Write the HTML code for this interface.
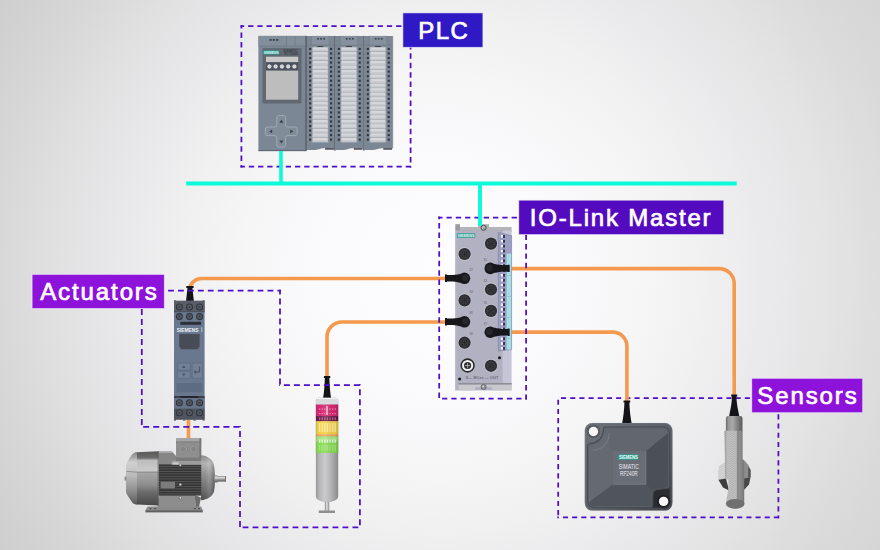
<!DOCTYPE html>
<html><head><meta charset="utf-8"><title>IO-Link</title>
<style>
html,body{margin:0;padding:0;background:#e4e4e6;}
body{width:880px;height:550px;overflow:hidden;}
svg{display:block;}
text{font-family:"Liberation Sans",Arial,sans-serif;}
.lbl{font-size:24px;fill:#fff;stroke:#fff;stroke-width:.7;letter-spacing:1.9px;}
.dash{fill:none;stroke:#4d0ec6;stroke-linecap:butt;}
.or{fill:none;stroke:#f5994f;stroke-width:3.6;stroke-linecap:butt;}
.cy{fill:none;stroke:#0afada;}
</style></head><body>
<svg width="880" height="550" viewBox="0 0 880 550">
<defs>
<radialGradient id="bg" gradientUnits="userSpaceOnUse" cx="440" cy="275" r="520"><stop offset="0" stop-color="#fdfdff"/><stop offset="0.125" stop-color="#fcfcfe"/><stop offset="0.25" stop-color="#fafafc"/><stop offset="0.375" stop-color="#f6f6f7"/><stop offset="0.5" stop-color="#f0f0f1"/><stop offset="0.625" stop-color="#e8e8ea"/><stop offset="0.75" stop-color="#e0e0e1"/><stop offset="0.846" stop-color="#d8d8d9"/><stop offset="0.92" stop-color="#d3d3d3"/><stop offset="1" stop-color="#cecece"/></radialGradient>
<linearGradient id="bg2" gradientUnits="userSpaceOnUse" x1="440" x2="880" y1="0" y2="0"><stop offset="0" stop-color="#fff" stop-opacity="0"/><stop offset="1" stop-color="#fff" stop-opacity=".15"/></linearGradient>
<linearGradient id="tg" x1="0" x2="1" y1="0" y2="0"><stop offset="0" stop-color="#949496"/><stop offset=".12" stop-color="#b2b2b4"/><stop offset=".4" stop-color="#cbcbcd"/><stop offset=".62" stop-color="#b9b9bb"/><stop offset=".88" stop-color="#9a9a9c"/><stop offset="1" stop-color="#88888a"/></linearGradient>
<linearGradient id="tsh" x1="0" x2="1" y1="0" y2="0"><stop offset="0" stop-color="#000" stop-opacity=".16"/><stop offset=".15" stop-color="#fff" stop-opacity=".0"/><stop offset=".45" stop-color="#fff" stop-opacity=".14"/><stop offset=".85" stop-color="#000" stop-opacity=".03"/><stop offset="1" stop-color="#000" stop-opacity=".18"/></linearGradient>
<linearGradient id="mfan" x1="0" x2="0" y1="0" y2="1"><stop offset="0" stop-color="#585858"/><stop offset=".12" stop-color="#6c6c6c"/><stop offset=".17" stop-color="#bdbdbd"/><stop offset=".36" stop-color="#cbcbcb"/><stop offset=".4" stop-color="#a6a6a6"/><stop offset=".62" stop-color="#8e8e8e"/><stop offset=".76" stop-color="#6a6a6a"/><stop offset="1" stop-color="#484848"/></linearGradient>
<linearGradient id="mfl" x1="0" x2="0" y1="0" y2="1"><stop offset="0" stop-color="#8a8a8a"/><stop offset=".2" stop-color="#d2d2d2"/><stop offset=".45" stop-color="#bcbcbc"/><stop offset=".75" stop-color="#8e8e8e"/><stop offset="1" stop-color="#5c5c5c"/></linearGradient>
<linearGradient id="mend" x1="0" x2="0" y1="0" y2="1"><stop offset="0" stop-color="#8a8a8a"/><stop offset=".18" stop-color="#b6b6b6"/><stop offset=".45" stop-color="#8f8f8f"/><stop offset=".8" stop-color="#6a6a6a"/><stop offset="1" stop-color="#505050"/></linearGradient>
<linearGradient id="msh" x1="0" x2="0" y1="0" y2="1"><stop offset="0" stop-color="#8c8c8c"/><stop offset=".3" stop-color="#dcdcdc"/><stop offset=".6" stop-color="#9a9a9a"/><stop offset="1" stop-color="#5a5a5a"/></linearGradient>
<linearGradient id="mhz" x1="0" x2="1" y1="0" y2="0"><stop offset="0" stop-color="#000" stop-opacity=".0"/><stop offset=".55" stop-color="#fff" stop-opacity=".12"/><stop offset="1" stop-color="#000" stop-opacity=".28"/></linearGradient>
<linearGradient id="rfe" x1="0" x2="1" y1="0" y2="1"><stop offset="0" stop-color="#6d7179"/><stop offset=".5" stop-color="#5c6068"/><stop offset="1" stop-color="#3c3f45"/></linearGradient>
<linearGradient id="pxs" x1="0" x2="1" y1="0" y2="0"><stop offset="0" stop-color="#686868"/><stop offset=".15" stop-color="#979797"/><stop offset=".4" stop-color="#aaaaaa"/><stop offset=".62" stop-color="#8a8a8a"/><stop offset="1" stop-color="#5a5a5a"/></linearGradient>
<linearGradient id="pxt" x1="0" x2="1" y1="0" y2="0"><stop offset="0" stop-color="#9a9a9a"/><stop offset=".12" stop-color="#c8c8c8"/><stop offset=".6" stop-color="#c6c6c6"/><stop offset=".68" stop-color="#757575"/><stop offset=".73" stop-color="#969696"/><stop offset="1" stop-color="#767676"/></linearGradient>
<pattern id="pxh" width="1.6" height="1.6" patternUnits="userSpaceOnUse" patternTransform="rotate(-32)"><rect width="1.6" height=".55" fill="#777" opacity=".5"/></pattern>
</defs>
<rect width="880" height="550" fill="url(#bg)"/>
<rect x="440" width="440" height="550" fill="url(#bg2)"/>
<g class="cy">
<path d="M186.2 183.5H736.7" stroke-width="4"/>
</g>
<g class="dash">
<path d="M557.3 398H751.8" stroke-dasharray="5.1 4.09" stroke-dashoffset="5.48" stroke-width="1.75"/>
<path d="M558.2 397.1V518.2" stroke-dasharray="5.1 4.1" stroke-dashoffset="6.6" stroke-width="1.75"/>
<path d="M557.3 517.3H779.3" stroke-dasharray="5.1 4.07" stroke-dashoffset="3.51" stroke-width="1.75"/>
<path d="M778.4 412.7V518.2" stroke-dasharray="5.1 4.1" stroke-dashoffset="7.6" stroke-width="1.75"/>
</g>
<g class="or">
<path d="M446 278.5H201.5A12 12 0 0 0 189.5 290.5" stroke-width="3.6"/>
<path d="M446 322H342A15 15 0 0 0 327 337V377"/>
<path d="M509 268.6H719.2A15 15 0 0 1 734.2 283.6V396"/>
<path d="M509 332.1H612.9A14 14 0 0 1 626.9 346.1V401.5"/>
<path d="M188.5 419V439" stroke-width="3.6"/>
</g>
<g id="plc">
<rect x="258.4" y="35.9" width="47.8" height="115.2" fill="#7c8795"/>
<rect x="258.4" y="35.9" width="47.8" height="10" fill="#838e9b"/>
<path d="M258.4 46H306.2M286.5 36V46M295 36V46" stroke="#6d7784" stroke-width=".6" fill="none"/>
<rect x="269.5" y="39" width="2.2" height="1.8" fill="#3c4450"/>
<rect x="272.8" y="39" width="2.2" height="1.8" fill="#3c4450"/>
<rect x="276.1" y="39" width="2.2" height="1.8" fill="#3c4450"/>
<rect x="262.5" y="48.1" width="39" height="55.4" fill="#626872"/>
<rect x="263.3" y="50.4" width="15.7" height="4" fill="#1fa39a"/>
<text x="263.8" y="53.8" font-size="3.4" font-weight="700" fill="#e8f6f4" textLength="14.8" lengthAdjust="spacingAndGlyphs">SIEMENS</text>
<text x="283.3" y="51.8" font-size="3.4" font-weight="700" fill="#3c424c" textLength="14.5" lengthAdjust="spacingAndGlyphs">SIMATIC</text>
<text x="284.3" y="55.4" font-size="3.4" font-weight="700" fill="#3c424c" textLength="13.5" lengthAdjust="spacingAndGlyphs">S7-1500</text>
<rect x="266" y="56.7" width="32.2" height="5.3" fill="#c9c9ca"/>
<rect x="266" y="62.6" width="32.2" height="7.6" fill="#4d545f"/>
<circle cx="269.4" cy="66.5" r="1.7" fill="#cfd0d2" stroke="#eeeff0" stroke-width=".8"/>
<circle cx="275.6" cy="66.5" r="1.7" fill="#cfd0d2" stroke="#eeeff0" stroke-width=".8"/>
<circle cx="281.9" cy="66.5" r="1.7" fill="#cfd0d2" stroke="#eeeff0" stroke-width=".8"/>
<circle cx="288.2" cy="66.5" r="1.7" fill="#cfd0d2" stroke="#eeeff0" stroke-width=".8"/>
<circle cx="294.4" cy="66.5" r="1.7" fill="#cfd0d2" stroke="#eeeff0" stroke-width=".8"/>
<rect x="266" y="70.7" width="32.2" height="29" fill="#bdbdbe"/>
<path d="M276.8 117.6a2 2 0 0 1 2-2h4.8a2 2 0 0 1 2 2v7.4a2 2 0 0 0 2 2h7.6a2 2 0 0 1 2 2v4.6a2 2 0 0 1-2 2h-7.6a2 2 0 0 0-2 2v7.6a2 2 0 0 1-2 2h-4.8a2 2 0 0 1-2-2v-7.6a2 2 0 0 0-2-2h-7.4a2 2 0 0 1-2-2v-4.6a2 2 0 0 1 2-2h7.4a2 2 0 0 0 2-2z" fill="#818c99" stroke="#a1a9b3" stroke-width="1"/>
<path d="M281.4 119.6l2 3.2h-4zM281.4 143.6l2-3.2h-4zM269 131.4l3.2-1.9v3.8zM293.4 131.4l-3.2-1.9v3.8z" fill="#3a414c"/>
<rect x="258.4" y="150.2" width="47.8" height=".9" fill="#5a626d"/>
<path d="M306.8 35.9h27.5V148.2h-9.4c-5 0-7 1.9-11 1.9h-7.1z" fill="#7c8795"/>
<rect x="311.4" y="35.9" width="17.8" height="9.3" fill="#86909e"/>
<path d="M311.4 36v9.2M329.2 36v9.2M306.8 45.2h27.5" stroke="#6c7683" stroke-width=".5" fill="none"/>
<rect x="317.1" y="38" width="1.8" height="1.6" fill="#3c4450"/>
<rect x="320.15" y="38" width="1.8" height="1.6" fill="#3c4450"/>
<rect x="323.2" y="38" width="1.8" height="1.6" fill="#3c4450"/>
<rect x="311.5" y="46.6" width="17.4" height="96.4" fill="#8e98a5"/>
<rect x="317.3" y="46.1" width="6" height="1.3" fill="#353c47"/>
<rect x="312.7" y="47.3" width="15" height="95" fill="#a9adb4"/>
<rect x="312.7" y="47.4" width="15" height="3.62" fill="#d6d8dc"/>
<rect x="312.7" y="49.56" width="15" height="1.46" fill="#c6c9ce"/>
<rect x="312.7" y="51.92" width="15" height="3.62" fill="#d6d8dc"/>
<rect x="312.7" y="54.09" width="15" height="1.46" fill="#c6c9ce"/>
<rect x="312.7" y="56.45" width="15" height="3.62" fill="#d6d8dc"/>
<rect x="312.7" y="58.61" width="15" height="1.46" fill="#c6c9ce"/>
<rect x="312.7" y="60.97" width="15" height="3.62" fill="#d6d8dc"/>
<rect x="312.7" y="63.13" width="15" height="1.46" fill="#c6c9ce"/>
<rect x="312.7" y="65.5" width="15" height="3.62" fill="#d6d8dc"/>
<rect x="312.7" y="67.66" width="15" height="1.46" fill="#c6c9ce"/>
<rect x="312.7" y="70.02" width="15" height="3.62" fill="#d6d8dc"/>
<rect x="312.7" y="72.18" width="15" height="1.46" fill="#c6c9ce"/>
<rect x="312.7" y="74.54" width="15" height="3.62" fill="#d6d8dc"/>
<rect x="312.7" y="76.7" width="15" height="1.46" fill="#c6c9ce"/>
<rect x="312.7" y="79.07" width="15" height="3.62" fill="#d6d8dc"/>
<rect x="312.7" y="81.23" width="15" height="1.46" fill="#c6c9ce"/>
<rect x="312.7" y="83.59" width="15" height="3.62" fill="#d6d8dc"/>
<rect x="312.7" y="85.75" width="15" height="1.46" fill="#c6c9ce"/>
<rect x="312.7" y="88.11" width="15" height="3.62" fill="#d6d8dc"/>
<rect x="312.7" y="90.28" width="15" height="1.46" fill="#c6c9ce"/>
<rect x="312.7" y="92.64" width="15" height="3.62" fill="#d6d8dc"/>
<rect x="312.7" y="94.8" width="15" height="1.46" fill="#c6c9ce"/>
<rect x="312.7" y="97.16" width="15" height="3.62" fill="#d6d8dc"/>
<rect x="312.7" y="99.32" width="15" height="1.46" fill="#c6c9ce"/>
<rect x="312.7" y="101.69" width="15" height="3.62" fill="#d6d8dc"/>
<rect x="312.7" y="103.85" width="15" height="1.46" fill="#c6c9ce"/>
<rect x="312.7" y="106.21" width="15" height="3.62" fill="#d6d8dc"/>
<rect x="312.7" y="108.37" width="15" height="1.46" fill="#c6c9ce"/>
<rect x="312.7" y="110.73" width="15" height="3.62" fill="#d6d8dc"/>
<rect x="312.7" y="112.9" width="15" height="1.46" fill="#c6c9ce"/>
<rect x="312.7" y="115.26" width="15" height="3.62" fill="#d6d8dc"/>
<rect x="312.7" y="117.42" width="15" height="1.46" fill="#c6c9ce"/>
<rect x="312.7" y="119.78" width="15" height="3.62" fill="#d6d8dc"/>
<rect x="312.7" y="121.94" width="15" height="1.46" fill="#c6c9ce"/>
<rect x="312.7" y="124.3" width="15" height="3.62" fill="#d6d8dc"/>
<rect x="312.7" y="126.47" width="15" height="1.46" fill="#c6c9ce"/>
<rect x="312.7" y="128.83" width="15" height="3.62" fill="#d6d8dc"/>
<rect x="312.7" y="130.99" width="15" height="1.46" fill="#c6c9ce"/>
<rect x="312.7" y="133.35" width="15" height="3.62" fill="#d6d8dc"/>
<rect x="312.7" y="135.51" width="15" height="1.46" fill="#c6c9ce"/>
<rect x="312.7" y="137.88" width="15" height="3.62" fill="#d6d8dc"/>
<rect x="312.7" y="140.04" width="15" height="1.46" fill="#c6c9ce"/>
<rect x="309.1" y="47.9" width="2.1" height="2.1" fill="#2f3641"/>
<rect x="330" y="47.9" width="2.1" height="2.1" fill="#2f3641"/>
<rect x="309.1" y="52.44" width="2.1" height="2.1" fill="#2f3641"/>
<rect x="330" y="52.44" width="2.1" height="2.1" fill="#2f3641"/>
<rect x="309.1" y="56.97" width="2.1" height="2.1" fill="#2f3641"/>
<rect x="330" y="56.97" width="2.1" height="2.1" fill="#2f3641"/>
<rect x="309.1" y="61.5" width="2.1" height="2.1" fill="#2f3641"/>
<rect x="330" y="61.5" width="2.1" height="2.1" fill="#2f3641"/>
<rect x="309.1" y="66.04" width="2.1" height="2.1" fill="#2f3641"/>
<rect x="330" y="66.04" width="2.1" height="2.1" fill="#2f3641"/>
<rect x="309.1" y="70.58" width="2.1" height="2.1" fill="#2f3641"/>
<rect x="330" y="70.58" width="2.1" height="2.1" fill="#2f3641"/>
<rect x="309.1" y="75.11" width="2.1" height="2.1" fill="#2f3641"/>
<rect x="330" y="75.11" width="2.1" height="2.1" fill="#2f3641"/>
<rect x="309.1" y="79.64" width="2.1" height="2.1" fill="#2f3641"/>
<rect x="330" y="79.64" width="2.1" height="2.1" fill="#2f3641"/>
<rect x="309.1" y="84.18" width="2.1" height="2.1" fill="#2f3641"/>
<rect x="330" y="84.18" width="2.1" height="2.1" fill="#2f3641"/>
<rect x="309.1" y="88.72" width="2.1" height="2.1" fill="#2f3641"/>
<rect x="330" y="88.72" width="2.1" height="2.1" fill="#2f3641"/>
<rect x="309.1" y="93.25" width="2.1" height="2.1" fill="#2f3641"/>
<rect x="330" y="93.25" width="2.1" height="2.1" fill="#2f3641"/>
<rect x="309.1" y="97.78" width="2.1" height="2.1" fill="#2f3641"/>
<rect x="330" y="97.78" width="2.1" height="2.1" fill="#2f3641"/>
<rect x="309.1" y="102.32" width="2.1" height="2.1" fill="#2f3641"/>
<rect x="330" y="102.32" width="2.1" height="2.1" fill="#2f3641"/>
<rect x="309.1" y="106.85" width="2.1" height="2.1" fill="#2f3641"/>
<rect x="330" y="106.85" width="2.1" height="2.1" fill="#2f3641"/>
<rect x="309.1" y="111.39" width="2.1" height="2.1" fill="#2f3641"/>
<rect x="330" y="111.39" width="2.1" height="2.1" fill="#2f3641"/>
<rect x="309.1" y="115.93" width="2.1" height="2.1" fill="#2f3641"/>
<rect x="330" y="115.93" width="2.1" height="2.1" fill="#2f3641"/>
<rect x="309.1" y="120.46" width="2.1" height="2.1" fill="#2f3641"/>
<rect x="330" y="120.46" width="2.1" height="2.1" fill="#2f3641"/>
<rect x="309.1" y="125" width="2.1" height="2.1" fill="#2f3641"/>
<rect x="330" y="125" width="2.1" height="2.1" fill="#2f3641"/>
<rect x="309.1" y="129.53" width="2.1" height="2.1" fill="#2f3641"/>
<rect x="330" y="129.53" width="2.1" height="2.1" fill="#2f3641"/>
<rect x="309.1" y="134.06" width="2.1" height="2.1" fill="#2f3641"/>
<rect x="330" y="134.06" width="2.1" height="2.1" fill="#2f3641"/>
<rect x="309.1" y="138.6" width="2.1" height="2.1" fill="#2f3641"/>
<rect x="330" y="138.6" width="2.1" height="2.1" fill="#2f3641"/>
<rect x="325.1" y="148" width="8.8" height="1.8" fill="#5b5b61"/>
<rect x="305.5" y="35.9" width="1.3" height="114.8" fill="#4a515c"/>
<path d="M335.5 35.9h27.5V148.2h-9.4c-5 0-7 1.9-11 1.9h-7.1z" fill="#7c8795"/>
<rect x="340.1" y="35.9" width="17.8" height="9.3" fill="#86909e"/>
<path d="M340.1 36v9.2M357.9 36v9.2M335.5 45.2h27.5" stroke="#6c7683" stroke-width=".5" fill="none"/>
<rect x="345.8" y="38" width="1.8" height="1.6" fill="#3c4450"/>
<rect x="348.85" y="38" width="1.8" height="1.6" fill="#3c4450"/>
<rect x="351.9" y="38" width="1.8" height="1.6" fill="#3c4450"/>
<rect x="340.2" y="46.6" width="17.4" height="96.4" fill="#8e98a5"/>
<rect x="346" y="46.1" width="6" height="1.3" fill="#353c47"/>
<rect x="341.4" y="47.3" width="15" height="95" fill="#a9adb4"/>
<rect x="341.4" y="47.4" width="15" height="3.62" fill="#d6d8dc"/>
<rect x="341.4" y="49.56" width="15" height="1.46" fill="#c6c9ce"/>
<rect x="341.4" y="51.92" width="15" height="3.62" fill="#d6d8dc"/>
<rect x="341.4" y="54.09" width="15" height="1.46" fill="#c6c9ce"/>
<rect x="341.4" y="56.45" width="15" height="3.62" fill="#d6d8dc"/>
<rect x="341.4" y="58.61" width="15" height="1.46" fill="#c6c9ce"/>
<rect x="341.4" y="60.97" width="15" height="3.62" fill="#d6d8dc"/>
<rect x="341.4" y="63.13" width="15" height="1.46" fill="#c6c9ce"/>
<rect x="341.4" y="65.5" width="15" height="3.62" fill="#d6d8dc"/>
<rect x="341.4" y="67.66" width="15" height="1.46" fill="#c6c9ce"/>
<rect x="341.4" y="70.02" width="15" height="3.62" fill="#d6d8dc"/>
<rect x="341.4" y="72.18" width="15" height="1.46" fill="#c6c9ce"/>
<rect x="341.4" y="74.54" width="15" height="3.62" fill="#d6d8dc"/>
<rect x="341.4" y="76.7" width="15" height="1.46" fill="#c6c9ce"/>
<rect x="341.4" y="79.07" width="15" height="3.62" fill="#d6d8dc"/>
<rect x="341.4" y="81.23" width="15" height="1.46" fill="#c6c9ce"/>
<rect x="341.4" y="83.59" width="15" height="3.62" fill="#d6d8dc"/>
<rect x="341.4" y="85.75" width="15" height="1.46" fill="#c6c9ce"/>
<rect x="341.4" y="88.11" width="15" height="3.62" fill="#d6d8dc"/>
<rect x="341.4" y="90.28" width="15" height="1.46" fill="#c6c9ce"/>
<rect x="341.4" y="92.64" width="15" height="3.62" fill="#d6d8dc"/>
<rect x="341.4" y="94.8" width="15" height="1.46" fill="#c6c9ce"/>
<rect x="341.4" y="97.16" width="15" height="3.62" fill="#d6d8dc"/>
<rect x="341.4" y="99.32" width="15" height="1.46" fill="#c6c9ce"/>
<rect x="341.4" y="101.69" width="15" height="3.62" fill="#d6d8dc"/>
<rect x="341.4" y="103.85" width="15" height="1.46" fill="#c6c9ce"/>
<rect x="341.4" y="106.21" width="15" height="3.62" fill="#d6d8dc"/>
<rect x="341.4" y="108.37" width="15" height="1.46" fill="#c6c9ce"/>
<rect x="341.4" y="110.73" width="15" height="3.62" fill="#d6d8dc"/>
<rect x="341.4" y="112.9" width="15" height="1.46" fill="#c6c9ce"/>
<rect x="341.4" y="115.26" width="15" height="3.62" fill="#d6d8dc"/>
<rect x="341.4" y="117.42" width="15" height="1.46" fill="#c6c9ce"/>
<rect x="341.4" y="119.78" width="15" height="3.62" fill="#d6d8dc"/>
<rect x="341.4" y="121.94" width="15" height="1.46" fill="#c6c9ce"/>
<rect x="341.4" y="124.3" width="15" height="3.62" fill="#d6d8dc"/>
<rect x="341.4" y="126.47" width="15" height="1.46" fill="#c6c9ce"/>
<rect x="341.4" y="128.83" width="15" height="3.62" fill="#d6d8dc"/>
<rect x="341.4" y="130.99" width="15" height="1.46" fill="#c6c9ce"/>
<rect x="341.4" y="133.35" width="15" height="3.62" fill="#d6d8dc"/>
<rect x="341.4" y="135.51" width="15" height="1.46" fill="#c6c9ce"/>
<rect x="341.4" y="137.88" width="15" height="3.62" fill="#d6d8dc"/>
<rect x="341.4" y="140.04" width="15" height="1.46" fill="#c6c9ce"/>
<rect x="337.8" y="47.9" width="2.1" height="2.1" fill="#2f3641"/>
<rect x="358.7" y="47.9" width="2.1" height="2.1" fill="#2f3641"/>
<rect x="337.8" y="52.44" width="2.1" height="2.1" fill="#2f3641"/>
<rect x="358.7" y="52.44" width="2.1" height="2.1" fill="#2f3641"/>
<rect x="337.8" y="56.97" width="2.1" height="2.1" fill="#2f3641"/>
<rect x="358.7" y="56.97" width="2.1" height="2.1" fill="#2f3641"/>
<rect x="337.8" y="61.5" width="2.1" height="2.1" fill="#2f3641"/>
<rect x="358.7" y="61.5" width="2.1" height="2.1" fill="#2f3641"/>
<rect x="337.8" y="66.04" width="2.1" height="2.1" fill="#2f3641"/>
<rect x="358.7" y="66.04" width="2.1" height="2.1" fill="#2f3641"/>
<rect x="337.8" y="70.58" width="2.1" height="2.1" fill="#2f3641"/>
<rect x="358.7" y="70.58" width="2.1" height="2.1" fill="#2f3641"/>
<rect x="337.8" y="75.11" width="2.1" height="2.1" fill="#2f3641"/>
<rect x="358.7" y="75.11" width="2.1" height="2.1" fill="#2f3641"/>
<rect x="337.8" y="79.64" width="2.1" height="2.1" fill="#2f3641"/>
<rect x="358.7" y="79.64" width="2.1" height="2.1" fill="#2f3641"/>
<rect x="337.8" y="84.18" width="2.1" height="2.1" fill="#2f3641"/>
<rect x="358.7" y="84.18" width="2.1" height="2.1" fill="#2f3641"/>
<rect x="337.8" y="88.72" width="2.1" height="2.1" fill="#2f3641"/>
<rect x="358.7" y="88.72" width="2.1" height="2.1" fill="#2f3641"/>
<rect x="337.8" y="93.25" width="2.1" height="2.1" fill="#2f3641"/>
<rect x="358.7" y="93.25" width="2.1" height="2.1" fill="#2f3641"/>
<rect x="337.8" y="97.78" width="2.1" height="2.1" fill="#2f3641"/>
<rect x="358.7" y="97.78" width="2.1" height="2.1" fill="#2f3641"/>
<rect x="337.8" y="102.32" width="2.1" height="2.1" fill="#2f3641"/>
<rect x="358.7" y="102.32" width="2.1" height="2.1" fill="#2f3641"/>
<rect x="337.8" y="106.85" width="2.1" height="2.1" fill="#2f3641"/>
<rect x="358.7" y="106.85" width="2.1" height="2.1" fill="#2f3641"/>
<rect x="337.8" y="111.39" width="2.1" height="2.1" fill="#2f3641"/>
<rect x="358.7" y="111.39" width="2.1" height="2.1" fill="#2f3641"/>
<rect x="337.8" y="115.93" width="2.1" height="2.1" fill="#2f3641"/>
<rect x="358.7" y="115.93" width="2.1" height="2.1" fill="#2f3641"/>
<rect x="337.8" y="120.46" width="2.1" height="2.1" fill="#2f3641"/>
<rect x="358.7" y="120.46" width="2.1" height="2.1" fill="#2f3641"/>
<rect x="337.8" y="125" width="2.1" height="2.1" fill="#2f3641"/>
<rect x="358.7" y="125" width="2.1" height="2.1" fill="#2f3641"/>
<rect x="337.8" y="129.53" width="2.1" height="2.1" fill="#2f3641"/>
<rect x="358.7" y="129.53" width="2.1" height="2.1" fill="#2f3641"/>
<rect x="337.8" y="134.06" width="2.1" height="2.1" fill="#2f3641"/>
<rect x="358.7" y="134.06" width="2.1" height="2.1" fill="#2f3641"/>
<rect x="337.8" y="138.6" width="2.1" height="2.1" fill="#2f3641"/>
<rect x="358.7" y="138.6" width="2.1" height="2.1" fill="#2f3641"/>
<rect x="353.8" y="148" width="8.8" height="1.8" fill="#5b5b61"/>
<rect x="334.2" y="35.9" width="1.3" height="114.8" fill="#4a515c"/>
<path d="M364.5 35.9h28V148.2h-9.4c-5 0-7 1.9-11 1.9h-7.6z" fill="#7c8795"/>
<rect x="369.1" y="35.9" width="17.8" height="9.3" fill="#86909e"/>
<path d="M369.1 36v9.2M386.9 36v9.2M364.5 45.2h28" stroke="#6c7683" stroke-width=".5" fill="none"/>
<rect x="374.8" y="38" width="1.8" height="1.6" fill="#3c4450"/>
<rect x="377.85" y="38" width="1.8" height="1.6" fill="#3c4450"/>
<rect x="380.9" y="38" width="1.8" height="1.6" fill="#3c4450"/>
<rect x="369.2" y="46.6" width="17.4" height="96.4" fill="#8e98a5"/>
<rect x="375" y="46.1" width="6" height="1.3" fill="#353c47"/>
<rect x="370.4" y="47.3" width="15" height="95" fill="#a9adb4"/>
<rect x="370.4" y="47.4" width="15" height="3.62" fill="#d6d8dc"/>
<rect x="370.4" y="49.56" width="15" height="1.46" fill="#c6c9ce"/>
<rect x="370.4" y="51.92" width="15" height="3.62" fill="#d6d8dc"/>
<rect x="370.4" y="54.09" width="15" height="1.46" fill="#c6c9ce"/>
<rect x="370.4" y="56.45" width="15" height="3.62" fill="#d6d8dc"/>
<rect x="370.4" y="58.61" width="15" height="1.46" fill="#c6c9ce"/>
<rect x="370.4" y="60.97" width="15" height="3.62" fill="#d6d8dc"/>
<rect x="370.4" y="63.13" width="15" height="1.46" fill="#c6c9ce"/>
<rect x="370.4" y="65.5" width="15" height="3.62" fill="#d6d8dc"/>
<rect x="370.4" y="67.66" width="15" height="1.46" fill="#c6c9ce"/>
<rect x="370.4" y="70.02" width="15" height="3.62" fill="#d6d8dc"/>
<rect x="370.4" y="72.18" width="15" height="1.46" fill="#c6c9ce"/>
<rect x="370.4" y="74.54" width="15" height="3.62" fill="#d6d8dc"/>
<rect x="370.4" y="76.7" width="15" height="1.46" fill="#c6c9ce"/>
<rect x="370.4" y="79.07" width="15" height="3.62" fill="#d6d8dc"/>
<rect x="370.4" y="81.23" width="15" height="1.46" fill="#c6c9ce"/>
<rect x="370.4" y="83.59" width="15" height="3.62" fill="#d6d8dc"/>
<rect x="370.4" y="85.75" width="15" height="1.46" fill="#c6c9ce"/>
<rect x="370.4" y="88.11" width="15" height="3.62" fill="#d6d8dc"/>
<rect x="370.4" y="90.28" width="15" height="1.46" fill="#c6c9ce"/>
<rect x="370.4" y="92.64" width="15" height="3.62" fill="#d6d8dc"/>
<rect x="370.4" y="94.8" width="15" height="1.46" fill="#c6c9ce"/>
<rect x="370.4" y="97.16" width="15" height="3.62" fill="#d6d8dc"/>
<rect x="370.4" y="99.32" width="15" height="1.46" fill="#c6c9ce"/>
<rect x="370.4" y="101.69" width="15" height="3.62" fill="#d6d8dc"/>
<rect x="370.4" y="103.85" width="15" height="1.46" fill="#c6c9ce"/>
<rect x="370.4" y="106.21" width="15" height="3.62" fill="#d6d8dc"/>
<rect x="370.4" y="108.37" width="15" height="1.46" fill="#c6c9ce"/>
<rect x="370.4" y="110.73" width="15" height="3.62" fill="#d6d8dc"/>
<rect x="370.4" y="112.9" width="15" height="1.46" fill="#c6c9ce"/>
<rect x="370.4" y="115.26" width="15" height="3.62" fill="#d6d8dc"/>
<rect x="370.4" y="117.42" width="15" height="1.46" fill="#c6c9ce"/>
<rect x="370.4" y="119.78" width="15" height="3.62" fill="#d6d8dc"/>
<rect x="370.4" y="121.94" width="15" height="1.46" fill="#c6c9ce"/>
<rect x="370.4" y="124.3" width="15" height="3.62" fill="#d6d8dc"/>
<rect x="370.4" y="126.47" width="15" height="1.46" fill="#c6c9ce"/>
<rect x="370.4" y="128.83" width="15" height="3.62" fill="#d6d8dc"/>
<rect x="370.4" y="130.99" width="15" height="1.46" fill="#c6c9ce"/>
<rect x="370.4" y="133.35" width="15" height="3.62" fill="#d6d8dc"/>
<rect x="370.4" y="135.51" width="15" height="1.46" fill="#c6c9ce"/>
<rect x="370.4" y="137.88" width="15" height="3.62" fill="#d6d8dc"/>
<rect x="370.4" y="140.04" width="15" height="1.46" fill="#c6c9ce"/>
<rect x="366.8" y="47.9" width="2.1" height="2.1" fill="#2f3641"/>
<rect x="387.7" y="47.9" width="2.1" height="2.1" fill="#2f3641"/>
<rect x="366.8" y="52.44" width="2.1" height="2.1" fill="#2f3641"/>
<rect x="387.7" y="52.44" width="2.1" height="2.1" fill="#2f3641"/>
<rect x="366.8" y="56.97" width="2.1" height="2.1" fill="#2f3641"/>
<rect x="387.7" y="56.97" width="2.1" height="2.1" fill="#2f3641"/>
<rect x="366.8" y="61.5" width="2.1" height="2.1" fill="#2f3641"/>
<rect x="387.7" y="61.5" width="2.1" height="2.1" fill="#2f3641"/>
<rect x="366.8" y="66.04" width="2.1" height="2.1" fill="#2f3641"/>
<rect x="387.7" y="66.04" width="2.1" height="2.1" fill="#2f3641"/>
<rect x="366.8" y="70.58" width="2.1" height="2.1" fill="#2f3641"/>
<rect x="387.7" y="70.58" width="2.1" height="2.1" fill="#2f3641"/>
<rect x="366.8" y="75.11" width="2.1" height="2.1" fill="#2f3641"/>
<rect x="387.7" y="75.11" width="2.1" height="2.1" fill="#2f3641"/>
<rect x="366.8" y="79.64" width="2.1" height="2.1" fill="#2f3641"/>
<rect x="387.7" y="79.64" width="2.1" height="2.1" fill="#2f3641"/>
<rect x="366.8" y="84.18" width="2.1" height="2.1" fill="#2f3641"/>
<rect x="387.7" y="84.18" width="2.1" height="2.1" fill="#2f3641"/>
<rect x="366.8" y="88.72" width="2.1" height="2.1" fill="#2f3641"/>
<rect x="387.7" y="88.72" width="2.1" height="2.1" fill="#2f3641"/>
<rect x="366.8" y="93.25" width="2.1" height="2.1" fill="#2f3641"/>
<rect x="387.7" y="93.25" width="2.1" height="2.1" fill="#2f3641"/>
<rect x="366.8" y="97.78" width="2.1" height="2.1" fill="#2f3641"/>
<rect x="387.7" y="97.78" width="2.1" height="2.1" fill="#2f3641"/>
<rect x="366.8" y="102.32" width="2.1" height="2.1" fill="#2f3641"/>
<rect x="387.7" y="102.32" width="2.1" height="2.1" fill="#2f3641"/>
<rect x="366.8" y="106.85" width="2.1" height="2.1" fill="#2f3641"/>
<rect x="387.7" y="106.85" width="2.1" height="2.1" fill="#2f3641"/>
<rect x="366.8" y="111.39" width="2.1" height="2.1" fill="#2f3641"/>
<rect x="387.7" y="111.39" width="2.1" height="2.1" fill="#2f3641"/>
<rect x="366.8" y="115.93" width="2.1" height="2.1" fill="#2f3641"/>
<rect x="387.7" y="115.93" width="2.1" height="2.1" fill="#2f3641"/>
<rect x="366.8" y="120.46" width="2.1" height="2.1" fill="#2f3641"/>
<rect x="387.7" y="120.46" width="2.1" height="2.1" fill="#2f3641"/>
<rect x="366.8" y="125" width="2.1" height="2.1" fill="#2f3641"/>
<rect x="387.7" y="125" width="2.1" height="2.1" fill="#2f3641"/>
<rect x="366.8" y="129.53" width="2.1" height="2.1" fill="#2f3641"/>
<rect x="387.7" y="129.53" width="2.1" height="2.1" fill="#2f3641"/>
<rect x="366.8" y="134.06" width="2.1" height="2.1" fill="#2f3641"/>
<rect x="387.7" y="134.06" width="2.1" height="2.1" fill="#2f3641"/>
<rect x="366.8" y="138.6" width="2.1" height="2.1" fill="#2f3641"/>
<rect x="387.7" y="138.6" width="2.1" height="2.1" fill="#2f3641"/>
<rect x="383.3" y="148" width="8.8" height="1.8" fill="#5b5b61"/>
<rect x="363.2" y="35.9" width="1.3" height="114.8" fill="#4a515c"/>
<rect x="392.5" y="35.9" width=".6" height="112.3" fill="#5d6672"/>
</g>
<g id="iolink">
<rect x="455.3" y="224.2" width="4.7" height="7.4" fill="#9b9b9f"/>
<rect x="460" y="227" width="51.6" height="4.6" fill="#b5b5b9"/>
<rect x="460" y="230.6" width="51.6" height="1" fill="#9d9da3"/>
<rect x="478.2" y="224.2" width="10.8" height="3.4" fill="#b0b0b4"/>
<rect x="455.3" y="230.4" width="47.6" height="160" fill="#b1b1c1"/>
<rect x="502.9" y="230.4" width="8.7" height="160" fill="#c6c6d8"/>
<rect x="455.3" y="230.4" width="1" height="160" fill="#bdbdc8"/>
<path d="M458.5 383H511.6V390.4H492V387H475V390.4H458.5z" fill="#c9c9cd"/>
<rect x="458.5" y="383" width="53.1" height="1.6" fill="#8e8e98"/>
<circle cx="483.6" cy="387" r="2.6" fill="#8d8d93" stroke="#5c5c62" stroke-width=".7"/>
<circle cx="483.2" cy="386.5" r="1" fill="#d8d8dc"/>
<circle cx="483.6" cy="227.8" r="2.5" fill="#c9c9ce" stroke="#3d3d43" stroke-width="1"/>
<circle cx="483.9" cy="228.2" r="1" fill="#8c8c92"/>
<rect x="456.9" y="233.3" width="18.3" height="4.4" fill="#2a9d94"/>
<text x="457.5" y="236.9" font-size="4" font-weight="700" fill="#e6f5f3" textLength="17" lengthAdjust="spacingAndGlyphs">SIEMENS</text>
<path d="M498.3 232.4L511.6 235.6V349.6L498.3 351z" fill="#9c9ec4"/>
<path d="M498.3 232.4L511.6 235.6V349.6L498.3 351z" fill="none" stroke="#7d7fa6" stroke-width=".6"/>
<rect x="506.6" y="253.6" width="4.6" height="96" fill="#a3dfe5"/>
<rect x="506.6" y="275" width="4.6" height=".8" fill="#8fc4cc"/>
<rect x="506.6" y="296" width="4.6" height=".8" fill="#8fc4cc"/>
<rect x="506.6" y="317" width="4.6" height=".8" fill="#8fc4cc"/>
<rect x="506.6" y="338" width="4.6" height=".8" fill="#8fc4cc"/>
<rect x="500.6" y="235" width="4.4" height="2.8" fill="#34344a"/>
<rect x="500.6" y="235" width="2.4" height="2.8" fill="#f2f2f6"/>
<rect x="500.6" y="239.87" width="4.4" height="2.8" fill="#34344a"/>
<rect x="500.6" y="239.87" width="2.4" height="2.8" fill="#f2f2f6"/>
<rect x="500.6" y="244.74" width="4.4" height="2.8" fill="#34344a"/>
<rect x="500.6" y="244.74" width="2.4" height="2.8" fill="#f2f2f6"/>
<rect x="500.6" y="249.61" width="4.4" height="2.8" fill="#34344a"/>
<rect x="500.6" y="249.61" width="2.4" height="2.8" fill="#f2f2f6"/>
<rect x="500.6" y="254.48" width="4.4" height="2.8" fill="#34344a"/>
<rect x="500.6" y="254.48" width="2.4" height="2.8" fill="#f2f2f6"/>
<rect x="500.6" y="259.35" width="4.4" height="2.8" fill="#34344a"/>
<rect x="500.6" y="259.35" width="2.4" height="2.8" fill="#f2f2f6"/>
<rect x="500.6" y="264.22" width="4.4" height="2.8" fill="#34344a"/>
<rect x="500.6" y="264.22" width="2.4" height="2.8" fill="#f2f2f6"/>
<rect x="500.6" y="269.09" width="4.4" height="2.8" fill="#34344a"/>
<rect x="500.6" y="269.09" width="2.4" height="2.8" fill="#f2f2f6"/>
<rect x="500.6" y="273.96" width="4.4" height="2.8" fill="#34344a"/>
<rect x="500.6" y="273.96" width="2.4" height="2.8" fill="#f2f2f6"/>
<rect x="500.6" y="278.83" width="4.4" height="2.8" fill="#34344a"/>
<rect x="500.6" y="278.83" width="2.4" height="2.8" fill="#f2f2f6"/>
<rect x="500.6" y="283.7" width="4.4" height="2.8" fill="#34344a"/>
<rect x="500.6" y="283.7" width="2.4" height="2.8" fill="#f2f2f6"/>
<rect x="500.6" y="288.57" width="4.4" height="2.8" fill="#34344a"/>
<rect x="500.6" y="288.57" width="2.4" height="2.8" fill="#f2f2f6"/>
<rect x="500.6" y="293.44" width="4.4" height="2.8" fill="#34344a"/>
<rect x="500.6" y="293.44" width="2.4" height="2.8" fill="#f2f2f6"/>
<rect x="500.6" y="298.31" width="4.4" height="2.8" fill="#34344a"/>
<rect x="500.6" y="298.31" width="2.4" height="2.8" fill="#f2f2f6"/>
<rect x="500.6" y="303.18" width="4.4" height="2.8" fill="#34344a"/>
<rect x="500.6" y="303.18" width="2.4" height="2.8" fill="#f2f2f6"/>
<rect x="500.6" y="308.05" width="4.4" height="2.8" fill="#34344a"/>
<rect x="500.6" y="308.05" width="2.4" height="2.8" fill="#f2f2f6"/>
<rect x="500.6" y="312.92" width="4.4" height="2.8" fill="#34344a"/>
<rect x="500.6" y="312.92" width="2.4" height="2.8" fill="#f2f2f6"/>
<rect x="500.6" y="317.79" width="4.4" height="2.8" fill="#34344a"/>
<rect x="500.6" y="317.79" width="2.4" height="2.8" fill="#f2f2f6"/>
<rect x="500.6" y="322.66" width="4.4" height="2.8" fill="#34344a"/>
<rect x="500.6" y="322.66" width="2.4" height="2.8" fill="#f2f2f6"/>
<rect x="500.6" y="327.53" width="4.4" height="2.8" fill="#34344a"/>
<rect x="500.6" y="327.53" width="2.4" height="2.8" fill="#f2f2f6"/>
<rect x="500.6" y="332.4" width="4.4" height="2.8" fill="#34344a"/>
<rect x="500.6" y="332.4" width="2.4" height="2.8" fill="#f2f2f6"/>
<rect x="500.6" y="337.27" width="4.4" height="2.8" fill="#34344a"/>
<rect x="500.6" y="337.27" width="2.4" height="2.8" fill="#f2f2f6"/>
<rect x="500.6" y="342.14" width="4.4" height="2.8" fill="#34344a"/>
<rect x="500.6" y="342.14" width="2.4" height="2.8" fill="#f2f2f6"/>
<rect x="500.6" y="347.01" width="4.4" height="2.8" fill="#34344a"/>
<rect x="500.6" y="347.01" width="2.4" height="2.8" fill="#f2f2f6"/>
<circle cx="464.6" cy="254" r="6.9" fill="#c3c3d1"/>
<circle cx="464.6" cy="254" r="6.1" fill="#2d2d32"/>
<circle cx="464.6" cy="254" r="4.2" fill="#3d3d43"/>
<path d="M461.6 254h6M464.6 251v6" stroke="#2a2a2e" stroke-width="1" fill="none"/>
<circle cx="462.6" cy="252" r=".8" fill="#232327"/>
<circle cx="466.6" cy="252" r=".8" fill="#232327"/>
<circle cx="462.6" cy="256" r=".8" fill="#232327"/>
<circle cx="466.6" cy="256" r=".8" fill="#232327"/>
<circle cx="464.6" cy="300.4" r="6.9" fill="#c3c3d1"/>
<circle cx="464.6" cy="300.4" r="6.1" fill="#2d2d32"/>
<circle cx="464.6" cy="300.4" r="4.2" fill="#3d3d43"/>
<path d="M461.6 300.4h6M464.6 297.4v6" stroke="#2a2a2e" stroke-width="1" fill="none"/>
<circle cx="462.6" cy="298.4" r=".8" fill="#232327"/>
<circle cx="466.6" cy="298.4" r=".8" fill="#232327"/>
<circle cx="462.6" cy="302.4" r=".8" fill="#232327"/>
<circle cx="466.6" cy="302.4" r=".8" fill="#232327"/>
<circle cx="464.6" cy="342.7" r="6.9" fill="#c3c3d1"/>
<circle cx="464.6" cy="342.7" r="6.1" fill="#2d2d32"/>
<circle cx="464.6" cy="342.7" r="4.2" fill="#3d3d43"/>
<path d="M461.6 342.7h6M464.6 339.7v6" stroke="#2a2a2e" stroke-width="1" fill="none"/>
<circle cx="462.6" cy="340.7" r=".8" fill="#232327"/>
<circle cx="466.6" cy="340.7" r=".8" fill="#232327"/>
<circle cx="462.6" cy="344.7" r=".8" fill="#232327"/>
<circle cx="466.6" cy="344.7" r=".8" fill="#232327"/>
<circle cx="491" cy="243.6" r="6.9" fill="#c3c3d1"/>
<circle cx="491" cy="243.6" r="6.1" fill="#2d2d32"/>
<circle cx="491" cy="243.6" r="4.2" fill="#3d3d43"/>
<path d="M488 243.6h6M491 240.6v6" stroke="#2a2a2e" stroke-width="1" fill="none"/>
<circle cx="489" cy="241.6" r=".8" fill="#232327"/>
<circle cx="493" cy="241.6" r=".8" fill="#232327"/>
<circle cx="489" cy="245.6" r=".8" fill="#232327"/>
<circle cx="493" cy="245.6" r=".8" fill="#232327"/>
<circle cx="491" cy="289.5" r="6.9" fill="#c3c3d1"/>
<circle cx="491" cy="289.5" r="6.1" fill="#2d2d32"/>
<circle cx="491" cy="289.5" r="4.2" fill="#3d3d43"/>
<path d="M488 289.5h6M491 286.5v6" stroke="#2a2a2e" stroke-width="1" fill="none"/>
<circle cx="489" cy="287.5" r=".8" fill="#232327"/>
<circle cx="493" cy="287.5" r=".8" fill="#232327"/>
<circle cx="489" cy="291.5" r=".8" fill="#232327"/>
<circle cx="493" cy="291.5" r=".8" fill="#232327"/>
<circle cx="491" cy="310.9" r="6.9" fill="#c3c3d1"/>
<circle cx="491" cy="310.9" r="6.1" fill="#2d2d32"/>
<circle cx="491" cy="310.9" r="4.2" fill="#3d3d43"/>
<path d="M488 310.9h6M491 307.9v6" stroke="#2a2a2e" stroke-width="1" fill="none"/>
<circle cx="489" cy="308.9" r=".8" fill="#232327"/>
<circle cx="493" cy="308.9" r=".8" fill="#232327"/>
<circle cx="489" cy="312.9" r=".8" fill="#232327"/>
<circle cx="493" cy="312.9" r=".8" fill="#232327"/>
<circle cx="491" cy="365.8" r="6.9" fill="#c3c3d1"/>
<circle cx="491" cy="365.8" r="6.1" fill="#2d2d32"/>
<circle cx="491" cy="365.8" r="4.2" fill="#3d3d43"/>
<path d="M488 365.8h6M491 362.8v6" stroke="#2a2a2e" stroke-width="1" fill="none"/>
<circle cx="489" cy="363.8" r=".8" fill="#232327"/>
<circle cx="493" cy="363.8" r=".8" fill="#232327"/>
<circle cx="489" cy="367.8" r=".8" fill="#232327"/>
<circle cx="493" cy="367.8" r=".8" fill="#232327"/>
<circle cx="467.6" cy="365.5" r="6.4" fill="#f4f4f6" stroke="#2b2b2f" stroke-width="1.6"/>
<circle cx="467.6" cy="365.5" r="3.6" fill="#303034"/>
<path d="M465 365.5h5.2M467.6 362.9v5.2" stroke="#c8c8cc" stroke-width=".7"/>
<circle cx="499.5" cy="357.8" r="1.5" fill="#18181c"/>
<circle cx="459.6" cy="378.9" r="1.5" fill="#18181c"/>
<text x="483.8" y="260.5" font-size="2.6" fill="#55555f">X1</text>
<text x="469.5" y="270.6" font-size="2.6" fill="#55555f">X2</text>
<text x="483.8" y="282.2" font-size="2.6" fill="#55555f">X3</text>
<text x="469.5" y="293" font-size="2.6" fill="#55555f">X4</text>
<text x="483.8" y="303.5" font-size="2.6" fill="#55555f">X5</text>
<text x="469.5" y="314.4" font-size="2.6" fill="#55555f">X6</text>
<text x="483.8" y="324.6" font-size="2.6" fill="#55555f">X7</text>
<text x="469.5" y="335.4" font-size="2.6" fill="#55555f">X8</text>
<text x="465.6" y="379" font-size="3.2" fill="#4a4a55" textLength="33" lengthAdjust="spacingAndGlyphs">X&#8212; BCxx &#8212; OUT</text>
<path d="M445 274.6h2v.4C452 275.1 456 275.1 460.5 273.7L460.5 282.9C456 281.5 452 281.5 447 281.6v.4h-2z" fill="#17171b"/>
<circle cx="464.4" cy="278.3" r="5.8" fill="#17171b"/>
<circle cx="465.4" cy="277.8" r="3.4" fill="#26262c"/>
<path d="M445 318.1h2v.4C452 318.6 456 318.6 460.5 317.2L460.5 326.4C456 325 452 325 447 325.1v.4h-2z" fill="#17171b"/>
<circle cx="464.4" cy="321.8" r="5.8" fill="#17171b"/>
<circle cx="465.4" cy="321.3" r="3.4" fill="#26262c"/>
<path d="M509.7 264.7h-2v.4C502.7 265.2 498.7 265.2 494.2 263.8L494.2 273C498.7 271.6 502.7 271.6 507.7 271.7v.4h2z" fill="#17171b"/>
<circle cx="490.3" cy="268.4" r="5.8" fill="#17171b"/>
<circle cx="489.3" cy="267.9" r="3.4" fill="#26262c"/>
<path d="M509.7 328.5h-2v.4C502.7 329 498.7 329 494.2 327.6L494.2 336.8C498.7 335.4 502.7 335.4 507.7 335.5v.4h2z" fill="#17171b"/>
<circle cx="490.3" cy="332.2" r="5.8" fill="#17171b"/>
<circle cx="489.3" cy="331.7" r="3.4" fill="#26262c"/>
</g>
<g id="starter">
<path d="M186.3 286h7.3v1.9h-1.2l1.5 13.4h-7.9l1.5-13.4h-1.2z" fill="#141418"/>
<rect x="174" y="300.8" width="30.6" height="118.8" fill="#69788e"/>
<rect x="174" y="300.8" width="30.6" height="11" fill="#585d68"/>
<rect x="174" y="311.4" width="30.6" height=".8" fill="#434852"/>
<rect x="174" y="300.2" width="1.8" height="1.2" fill="#585d68"/><rect x="202.8" y="300.2" width="1.8" height="1.2" fill="#585d68"/>
<rect x="180.3" y="321.8" width="20.8" height="3" fill="#2c3038"/>
<rect x="174" y="396" width="30.6" height="2" fill="#3a3f49"/>
<rect x="180.3" y="396" width="18" height="2.6" fill="#23262d"/>
<rect x="174" y="398" width="30.6" height="10.6" fill="#64728a"/>
<rect x="174" y="408.6" width="30.6" height="11" fill="#50545e"/>
<rect x="174" y="419.4" width="2" height="1.2" fill="#50545e"/><rect x="183" y="419.4" width="2.4" height="1.2" fill="#50545e"/><rect x="193.4" y="419.4" width="2.4" height="1.2" fill="#50545e"/><rect x="202.6" y="419.4" width="2" height="1.2" fill="#50545e"/>
<circle cx="179.4" cy="307" r="3" fill="#5a5e67" stroke="#30343c" stroke-width="1.1"/>
<circle cx="179.4" cy="307" r="1.1" fill="#363a42"/>
<circle cx="189.5" cy="307" r="3" fill="#5a5e67" stroke="#30343c" stroke-width="1.1"/>
<circle cx="189.5" cy="307" r="1.1" fill="#363a42"/>
<circle cx="199.6" cy="307" r="3" fill="#5a5e67" stroke="#30343c" stroke-width="1.1"/>
<circle cx="199.6" cy="307" r="1.1" fill="#363a42"/>
<circle cx="179.4" cy="316.6" r="3" fill="#5a5e67" stroke="#30343c" stroke-width="1.1"/>
<circle cx="179.4" cy="316.6" r="1.1" fill="#363a42"/>
<circle cx="189.5" cy="316.6" r="3" fill="#5a5e67" stroke="#30343c" stroke-width="1.1"/>
<circle cx="189.5" cy="316.6" r="1.1" fill="#363a42"/>
<circle cx="199.6" cy="316.6" r="3" fill="#5a5e67" stroke="#30343c" stroke-width="1.1"/>
<circle cx="199.6" cy="316.6" r="1.1" fill="#363a42"/>
<circle cx="179.4" cy="402.8" r="3" fill="#5a5e67" stroke="#30343c" stroke-width="1.1"/>
<circle cx="179.4" cy="402.8" r="1.1" fill="#363a42"/>
<circle cx="189.5" cy="402.8" r="3" fill="#5a5e67" stroke="#30343c" stroke-width="1.1"/>
<circle cx="189.5" cy="402.8" r="1.1" fill="#363a42"/>
<circle cx="199.6" cy="402.8" r="3" fill="#5a5e67" stroke="#30343c" stroke-width="1.1"/>
<circle cx="199.6" cy="402.8" r="1.1" fill="#363a42"/>
<circle cx="179.4" cy="412.8" r="3" fill="#5a5e67" stroke="#30343c" stroke-width="1.1"/>
<circle cx="179.4" cy="412.8" r="1.1" fill="#363a42"/>
<circle cx="189.5" cy="412.8" r="3" fill="#5a5e67" stroke="#30343c" stroke-width="1.1"/>
<circle cx="189.5" cy="412.8" r="1.1" fill="#363a42"/>
<circle cx="199.6" cy="412.8" r="3" fill="#5a5e67" stroke="#30343c" stroke-width="1.1"/>
<circle cx="199.6" cy="412.8" r="1.1" fill="#363a42"/>
<text x="176.8" y="331.6" font-size="5.2" font-weight="700" fill="#f2f4f7" textLength="21.6" lengthAdjust="spacingAndGlyphs">SIEMENS</text>
<rect x="201.2" y="327.2" width="1.2" height="5" fill="#aeb6c2"/>
<path d="M179.2 334h20.4v12.6l-2.2 2.6h-16l-2.2-2.6z" fill="#484c57"/>
<rect x="177.6" y="363" width="12.4" height="7.2" rx=".8" fill="#728198" stroke="#556173" stroke-opacity=".6" stroke-width=".8"/>
<rect x="177.6" y="371.2" width="12.4" height="7.2" rx=".8" fill="#728198" stroke="#556173" stroke-opacity=".6" stroke-width=".8"/>
<rect x="192.2" y="363" width="10.2" height="15.4" rx=".8" fill="#728198" stroke="#556173" stroke-opacity=".6" stroke-width=".8"/>
<path d="M183.8 365.2l1.9 2.8h-3.8zM183.8 376.2l1.9-2.8h-3.8z" fill="#4a5566"/>
<path d="M199.6 366.4v5.6h-4.6" stroke="#4a5566" stroke-width="1.1" fill="none"/><path d="M193.6 372l2.6-1.9v3.8z" fill="#4a5566"/>
<rect x="176.4" y="383.2" width="26" height="9" fill="#5d6c83"/>
</g>
<g id="tower">
<path d="M323.95 376h6.3v1.9h-.9C329.65 386.08 330.1 392.4 331.2 398.4H323C324.1 392.4 324.55 386.08 324.85 377.9H323.95z" fill="#141418"/>
<path d="M315.9 400.4a2.6 2.6 0 0 1 2.6-2.6h17.1a2.6 2.6 0 0 1 2.6 2.6V496.4a11.15 5.8 0 0 1-22.3 0z" fill="url(#tg)"/>
<path d="M315.9 400.4a2.6 2.6 0 0 1 2.6-2.6h17.1a2.6 2.6 0 0 1 2.6 2.6V404.6h-22.3z" fill="#dadadc"/>
<rect x="316.6" y="397.9" width="20.9" height="1.2" rx=".6" fill="#f4f4f6"/>
<rect x="315.9" y="404.6" width="22.3" height="11.6" fill="#d6266f"/>
<rect x="315.9" y="416.1" width="22.3" height="5.1" fill="#6a1848"/>
<rect x="315.9" y="421.2" width="22.3" height="13.4" fill="#f4d042"/>
<rect x="315.9" y="434.4" width="22.3" height="2.2" fill="#f5a262"/>
<rect x="315.9" y="436.5" width="22.3" height="16.4" fill="#86da52"/>
<rect x="315.9" y="436.5" width="22.3" height="5" fill="#b6e896" opacity=".7"/>
<rect x="319" y="408.6" width="1.3" height=".9" fill="#f3bdd3"/>
<rect x="319" y="413.2" width="1.3" height=".9" fill="#eea9c6"/>
<rect x="319" y="417.4" width="1.3" height="2.6" fill="#b8628e"/>
<rect x="319" y="423" width="1.3" height="9" fill="#fae9a4"/>
<rect x="319" y="439.4" width="1.3" height="3.4" fill="#e6f7dc"/>
<rect x="319" y="444.6" width="1.3" height="6" fill="#a4e27e"/>
<rect x="321.6" y="408.6" width="1.3" height=".9" fill="#f3bdd3"/>
<rect x="321.6" y="413.2" width="1.3" height=".9" fill="#eea9c6"/>
<rect x="321.6" y="417.4" width="1.3" height="2.6" fill="#b8628e"/>
<rect x="321.6" y="423" width="1.3" height="9" fill="#fae9a4"/>
<rect x="321.6" y="439.4" width="1.3" height="3.4" fill="#e6f7dc"/>
<rect x="321.6" y="444.6" width="1.3" height="6" fill="#a4e27e"/>
<rect x="324.2" y="408.6" width="1.3" height=".9" fill="#f3bdd3"/>
<rect x="324.2" y="413.2" width="1.3" height=".9" fill="#eea9c6"/>
<rect x="324.2" y="417.4" width="1.3" height="2.6" fill="#b8628e"/>
<rect x="324.2" y="423" width="1.3" height="9" fill="#fae9a4"/>
<rect x="324.2" y="439.4" width="1.3" height="3.4" fill="#e6f7dc"/>
<rect x="324.2" y="444.6" width="1.3" height="6" fill="#a4e27e"/>
<rect x="326.8" y="408.6" width="1.3" height=".9" fill="#f3bdd3"/>
<rect x="326.8" y="413.2" width="1.3" height=".9" fill="#eea9c6"/>
<rect x="326.8" y="417.4" width="1.3" height="2.6" fill="#b8628e"/>
<rect x="326.8" y="423" width="1.3" height="9" fill="#fae9a4"/>
<rect x="326.8" y="439.4" width="1.3" height="3.4" fill="#e6f7dc"/>
<rect x="326.8" y="444.6" width="1.3" height="6" fill="#a4e27e"/>
<rect x="329.4" y="408.6" width="1.3" height=".9" fill="#f3bdd3"/>
<rect x="329.4" y="413.2" width="1.3" height=".9" fill="#eea9c6"/>
<rect x="329.4" y="417.4" width="1.3" height="2.6" fill="#b8628e"/>
<rect x="329.4" y="423" width="1.3" height="9" fill="#fae9a4"/>
<rect x="329.4" y="439.4" width="1.3" height="3.4" fill="#e6f7dc"/>
<rect x="329.4" y="444.6" width="1.3" height="6" fill="#a4e27e"/>
<rect x="332" y="408.6" width="1.3" height=".9" fill="#f3bdd3"/>
<rect x="332" y="413.2" width="1.3" height=".9" fill="#eea9c6"/>
<rect x="332" y="417.4" width="1.3" height="2.6" fill="#b8628e"/>
<rect x="332" y="423" width="1.3" height="9" fill="#fae9a4"/>
<rect x="332" y="439.4" width="1.3" height="3.4" fill="#e6f7dc"/>
<rect x="332" y="444.6" width="1.3" height="6" fill="#a4e27e"/>
<rect x="334.6" y="408.6" width="1.3" height=".9" fill="#f3bdd3"/>
<rect x="334.6" y="413.2" width="1.3" height=".9" fill="#eea9c6"/>
<rect x="334.6" y="417.4" width="1.3" height="2.6" fill="#b8628e"/>
<rect x="334.6" y="423" width="1.3" height="9" fill="#fae9a4"/>
<rect x="334.6" y="439.4" width="1.3" height="3.4" fill="#e6f7dc"/>
<rect x="334.6" y="444.6" width="1.3" height="6" fill="#a4e27e"/>
<rect x="326.3" y="406" width="1.5" height="9" fill="#f3bdd3"/>
<rect x="315.9" y="404.6" width="22.3" height="48.3" fill="url(#tsh)"/>
<rect x="324.8" y="501.6" width="4.5" height="9.4" fill="#a2a2a4"/>
<rect x="326" y="501.6" width="1.7" height="9.4" fill="#d6d6d8"/>
<rect x="318.8" y="510.5" width="16.2" height="2.5" fill="#8e8e90"/>
</g>
<g id="motor">
<path d="M159.4 495H194.4L196 507H157.6z" fill="#8d8d8d"/>
<path d="M194.4 495L201 497.5L199 507H196z" fill="#6c6c6c"/>
<path d="M147.6 506.6H201L202.8 510.4H145.4z" fill="#8a8a8a"/>
<rect x="145.4" y="510.2" width="57.4" height="2.2" fill="#606060"/>
<ellipse cx="150.5" cy="508.6" rx="1" ry=".6" fill="#3d3d3d"/>
<ellipse cx="155" cy="508.6" rx="1" ry=".6" fill="#3d3d3d"/>
<ellipse cx="195" cy="508.6" rx="1" ry=".6" fill="#3d3d3d"/>
<ellipse cx="199" cy="508.6" rx="1" ry=".6" fill="#3d3d3d"/>
<path d="M158.4 451.4H172L176 456V465H158.4z" fill="#868686"/>
<path d="M158.4 451.4H172L173.4 453H158.4z" fill="#a8a8a8"/>
<path d="M201 455.2C207 455.6 211.4 458.4 213.6 464C215.2 470 215.4 486 213.8 492C211.8 497 207 499.6 201 500.2z" fill="url(#mend)"/>
<path d="M201 455.2C207 455.6 211.4 458.4 213.6 464C215.2 470 215.4 486 213.8 492C211.8 497 207 499.6 201 500.2z" fill="url(#mhz)"/>
<rect x="214.6" y="475.4" width="3" height="7" fill="url(#msh)"/>
<rect x="217" y="476" width="8.9" height="5.6" fill="url(#msh)"/>
<rect x="225" y="476" width=".9" height="5.6" fill="#6a6a6a"/>
<rect x="158.4" y="464.4" width="42.8" height="31.2" fill="#353535"/>
<rect x="158.4" y="466" width="42.8" height=".8" fill="#5c5c5c"/>
<rect x="158.4" y="468.5" width="42.8" height=".8" fill="#5c5c5c"/>
<rect x="158.4" y="471" width="42.8" height=".8" fill="#5c5c5c"/>
<rect x="158.4" y="473.5" width="42.8" height=".8" fill="#5c5c5c"/>
<rect x="158.4" y="476" width="42.8" height=".8" fill="#5c5c5c"/>
<rect x="158.4" y="478.5" width="42.8" height=".8" fill="#5c5c5c"/>
<rect x="158.4" y="481" width="42.8" height=".8" fill="#5c5c5c"/>
<rect x="158.4" y="483.5" width="42.8" height=".8" fill="#5c5c5c"/>
<rect x="158.4" y="486" width="42.8" height=".8" fill="#5c5c5c"/>
<rect x="158.4" y="488.5" width="42.8" height=".8" fill="#5c5c5c"/>
<rect x="158.4" y="491" width="42.8" height=".8" fill="#5c5c5c"/>
<rect x="158.4" y="493.5" width="42.8" height=".8" fill="#5c5c5c"/>
<rect x="160.6" y="481.8" width="14.4" height="6.6" fill="#7c7c7c"/>
<circle cx="180.3" cy="465" r="1.3" fill="#dcdcdc" stroke="#444" stroke-width=".5"/>
<circle cx="180.3" cy="484.6" r="1.3" fill="#dcdcdc" stroke="#444" stroke-width=".5"/>
<circle cx="180.3" cy="497.8" r="1.3" fill="#dcdcdc" stroke="#444" stroke-width=".5"/>
<path d="M170.6 464.6L172.4 460.4H201.2V464.6z" fill="#9c9c9c"/>
<rect x="172.6" y="462.2" width="6" height="2.4" fill="#c8c8c8"/>
<rect x="176" y="456.6" width="25.2" height="4.4" fill="#7a7a7a"/>
<rect x="176" y="438.2" width="25.2" height="19.4" rx="1" fill="#8f8f8f"/>
<rect x="176" y="438.2" width="25.2" height="3.6" rx="1" fill="#a6a6a6"/>
<rect x="176" y="441.6" width="25.2" height=".7" fill="#6e6e6e"/>
<rect x="199.4" y="438.2" width="1.8" height="19.4" fill="#767676"/>
<circle cx="183.1" cy="449.2" r="4.2" fill="#9c9c9c" stroke="#7a7a7a" stroke-width=".6"/>
<circle cx="183.1" cy="449.2" r="2.7" fill="#868686"/>
<circle cx="193.7" cy="449.2" r="4.2" fill="#9c9c9c" stroke="#7a7a7a" stroke-width=".6"/>
<circle cx="193.7" cy="449.2" r="2.7" fill="#868686"/>
<path d="M158.6 451.3L137 452.2C134.6 452.4 133 453.4 131.6 455.4L127.6 461.6C126.6 463.4 126.2 465 126.2 467V490C126.2 492 126.6 493.6 127.6 495.2L131.6 501.2C133 503.4 134.6 504.4 137 504.6L158.6 505.4z" fill="url(#mfan)"/>
<path d="M137 452.2C134.6 452.4 133 453.4 131.6 455.4L127.6 461.6C126.6 463.4 126.2 465 126.2 467V490C126.2 492 126.6 493.6 127.6 495.2L131.6 501.2C133 503.4 134.6 504.4 137 504.6V452.2z" fill="url(#mfl)" opacity=".9"/>
<path d="M126.4 471.4L137 472.2H158.6" stroke="#6f6f6f" stroke-width=".6" fill="none"/>
<rect x="124.6" y="476.6" width="1.8" height="4" fill="#8a8a8a"/>
<rect x="157.6" y="451.3" width="1.2" height="54.1" fill="#5a5a5a" opacity=".6"/>
</g>
<g id="rfid">
<path d="M623.55 400.6h6.7v1.9h-.9C629.65 410.95 630.6 417.6 631.7 423.6H622.1C623.2 417.6 624.15 410.95 624.45 402.5H623.55z" fill="#141418"/>
<rect x="584.8" y="423" width="87.6" height="87.6" rx="7.5" fill="url(#rfe)"/>
<rect x="585.2" y="423.4" width="86.8" height="86.8" rx="7.2" fill="none" stroke="#7b7f87" stroke-opacity=".55" stroke-width=".8"/>
<path d="M652 507.5V494.5C652 491 654 489 657.5 488.6L669.6 487.6V501A6.5 6.5 0 0 1 663.1 507.5z" fill="#2a2c31"/>
<path d="M604 427H663A6.4 6.4 0 0 1 669.4 433.4V486.5C669.4 487.6 668.6 488.2 667.4 488.4L657.5 489.4C654.2 489.8 652.8 491.2 652.8 494.5V505C652.8 506.4 652 507.2 650.6 507.2H594A6.4 6.4 0 0 1 587.6 500.8V446C587.6 444.6 588.4 444 589.8 443.8C597.8 443 602.4 439 603.4 430.6z" fill="#60646c" stroke="#474b52" stroke-width="1.1"/>
<path d="M604.4 428.2H663A5.2 5.2 0 0 1 668.2 433L645.9 451.2H612.8L604 431z" fill="#62666e"/>
<path d="M668.2 433V486.6C668.2 487.2 667.8 487.4 667.2 487.4L657.4 488.4C655 488.7 653.4 489.6 652.5 491.2L645.9 484.2V451.2z" fill="#4b4f57"/>
<path d="M645.9 484.2L652.5 491.2C651.9 492.2 651.7 493.4 651.7 494.8V505C651.7 505.8 651.2 506.1 650.6 506.1H594A5.2 5.2 0 0 1 589 502L612.8 484.2z" fill="#50545c"/>
<path d="M589 502A5.2 5.2 0 0 1 588.8 500.8V446C588.8 445.3 589.2 445 589.9 444.9C597.6 444 603 440 604 431L612.8 451.2V484.2z" fill="#656971"/>
<path d="M609 433C609.5 443 602 450 592.5 450" fill="none" stroke="#7d8189" stroke-opacity=".6" stroke-width="1.6"/>
<rect x="612.8" y="451.2" width="33.1" height="33" fill="#696d76"/>
<path d="M612.8 484.2H645.9V451.2" fill="none" stroke="#868a93" stroke-width=".6"/>
<rect x="618.4" y="454.4" width="19.9" height="5.3" fill="#25a192"/>
<text x="619" y="458.8" font-size="4.8" font-weight="700" fill="#f2faf8" textLength="18.7" lengthAdjust="spacingAndGlyphs">SIEMENS</text>
<text x="618.8" y="468.6" font-size="6.6" fill="#eceef1" textLength="20" lengthAdjust="spacingAndGlyphs">SIMATIC</text>
<text x="620" y="476" font-size="6.6" fill="#eceef1" textLength="17.8" lengthAdjust="spacingAndGlyphs">RF240R</text>
<circle cx="593.45" cy="431.45" r="7.3" fill="#555961" stroke="#71757d" stroke-width=".8"/>
<circle cx="593.45" cy="431.45" r="4.7" fill="#f7f7f9"/>
<circle cx="663.6" cy="501.4" r="6.6" fill="#1f2125"/>
<circle cx="663.6" cy="501.4" r="4.7" fill="#f7f7f9"/>
</g>
<g id="prox">
<path d="M731.15 394.6h6.1v1.9h-.9C736.65 404.41 738.2 410.4 739.3 416.4H729.1C730.2 410.4 731.75 404.41 732.05 396.5H731.15z" fill="#141418"/>
<path d="M725.9 418.4a2.4 2.4 0 0 1 2.4-2.4h11.8a2.4 2.4 0 0 1 2.4 2.4V431.2h-16.6z" fill="url(#pxs)"/>
<path d="M725.5 461.5L719.2 466L718 472L718.4 479.8L726 478.4z" fill="#d0d0d0"/>
<path d="M718.4 479.8L726 478.4L729 490.6L723 487.6z" fill="#3e3e3e"/>
<path d="M743.5 459.5L748.4 465L750.6 470V477L743.5 478.6z" fill="#8e8e8e"/>
<path d="M748.2 466.4L750.6 470V477L748.2 477.6z" fill="#565656"/>
<path d="M743.5 478.6L750.6 477L749 484.4L743.5 490.4z" fill="#484848"/>
<path d="M724.5 430.8h18.1V459l1.6 2V503.8a9.2 4.9 0 0 1-18.4 0L728.4 489V480L725 478V461z" fill="url(#pxt)"/>
<path d="M724.5 430.8h18.1V459l1.6 2V503.8a9.2 4.9 0 0 1-18.4 0L728.4 489V480L725 478V461z" fill="url(#pxh)"/>
<ellipse cx="735.3" cy="503.8" rx="9.2" ry="4.9" fill="#707070"/>
</g>
<g class="dash">
<path d="M240.5 26.2H403" stroke-dasharray="5.3 3.95" stroke-dashoffset="1.65" stroke-width="1.75"/>
<path d="M241.4 25.3V167.4" stroke-dasharray="5.5 3.97" stroke-dashoffset="2.27" stroke-width="1.75"/>
<path d="M240.5 166.5H411.5" stroke-dasharray="5.3 3.93" stroke-dashoffset="0.9" stroke-width="1.75"/>
<path d="M410.6 47.3V167.4" stroke-dasharray="5.5 3.92" stroke-dashoffset="3.38" stroke-width="1.75"/>
<path d="M438.3 217.5H519" stroke-dasharray="5.3 4" stroke-dashoffset="1.1" stroke-width="1.75"/>
<path d="M439.2 216.6V399.5" stroke-dasharray="5.5 3.91" stroke-dashoffset="2.91" stroke-width="1.75"/>
<path d="M438.3 398.6H527" stroke-dasharray="5.2 4.07" stroke-dashoffset="5.47" stroke-width="1.75"/>
<path d="M526.1 234.5V399.5" stroke-dasharray="5.4 4" stroke-dashoffset="9.3" stroke-width="1.75"/>
<path d="M164.3 290.7H280.9" stroke-dasharray="5.8 4.14" stroke-dashoffset="6.14" stroke-width="1.75"/>
<path d="M280 289.8V386" stroke-dasharray="6 4" stroke-dashoffset="1.2" stroke-width="1.75"/>
<path d="M279.1 385.1H360.8" stroke-dasharray="6 4" stroke-dashoffset="5.2" stroke-width="1.75"/>
<path d="M359.9 384.2V528.3" stroke-dasharray="6 4" stroke-dashoffset="4.9" stroke-width="1.75"/>
<path d="M239.1 527.4H360.8" stroke-dasharray="5.8 4.19" stroke-dashoffset="6.48" stroke-width="1.75"/>
<path d="M240 426V528.3" stroke-dasharray="6 4" stroke-dashoffset="5" stroke-width="1.75"/>
<path d="M140.9 426.9H240.9" stroke-dasharray="6 4.03" stroke-dashoffset="7.76" stroke-width="1.75"/>
<path d="M141.8 308.5V427.8" stroke-dasharray="6 4" stroke-dashoffset="9.5" stroke-width="1.75"/>
</g>
<g class="cy"><path d="M281 151V183" stroke-width="3.6"/><path d="M480 183V225.8" stroke-width="3.9"/></g>
<g>
<rect x="402.9" y="12.9" width="80" height="34.4" fill="#2f19c4" stroke="#f4f4fa" stroke-opacity=".7" stroke-width=".8"/>
<text class="lbl" x="418.3" y="38.6" style="letter-spacing:1.4px">PLC</text>
<rect x="518.8" y="200.2" width="205" height="34.4" fill="#540bbf" stroke="#f4f4fa" stroke-opacity=".7" stroke-width=".8"/>
<text class="lbl" x="529.8" y="225.9" style="letter-spacing:1.8px">IO-Link Master</text>
<rect x="32.1" y="274.4" width="132.2" height="34.1" fill="#8d12da" stroke="#f4f4fa" stroke-opacity=".7" stroke-width=".8"/>
<text class="lbl" x="40.2" y="300">Actuators</text>
<rect x="751.8" y="378.3" width="110.9" height="34.4" fill="#8d12da" stroke="#f4f4fa" stroke-opacity=".7" stroke-width=".8"/>
<text class="lbl" x="757.3" y="403.8">Sensors</text>
</g>
</svg>
</body></html>
